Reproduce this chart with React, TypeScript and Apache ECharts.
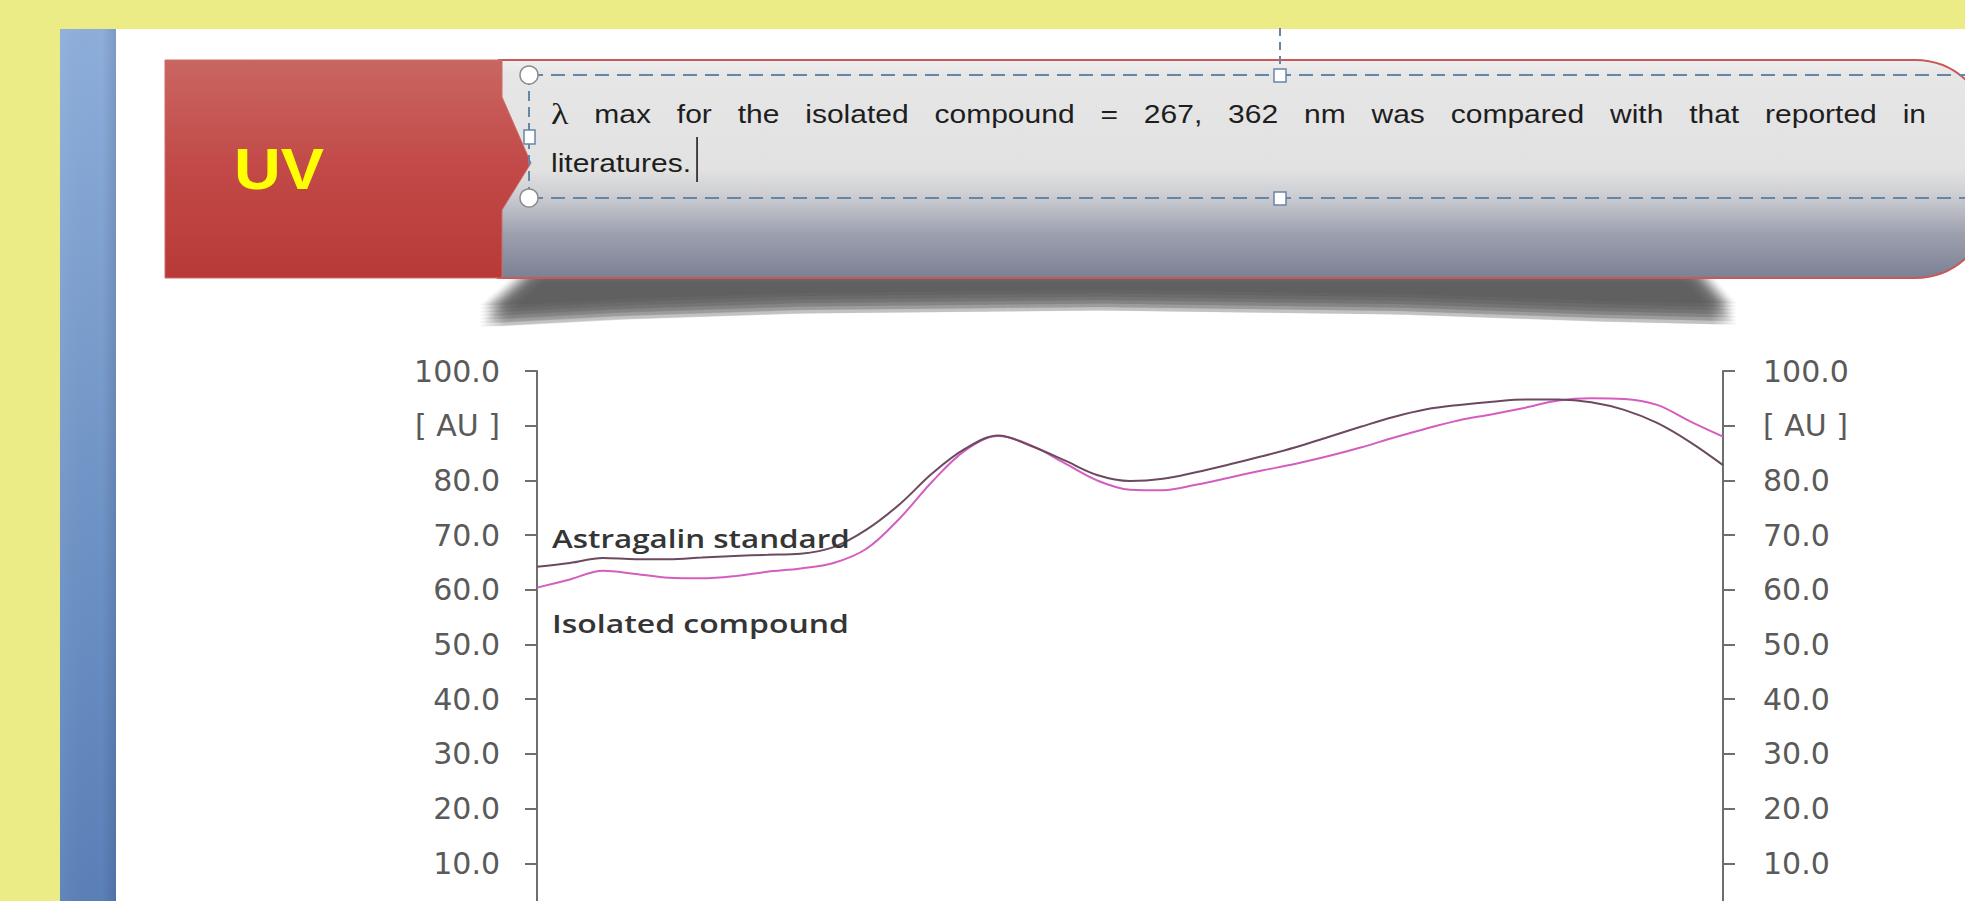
import React, { useEffect, useRef } from "react";
import * as echarts from "echarts";

// Wavelength grid (nm) and absorbance readings for both spectra
const wavelengths = [
  200, 205, 210, 215, 220, 225, 230, 235, 240, 245, 250, 255, 260, 265, 270, 275, 280, 285, 290,
  295, 300, 305, 310, 315, 320, 325, 330, 335, 340, 345, 350, 355, 360, 365, 370, 375, 380,
];
const astragalinStandard = [
  64.2, 64.9, 65.8, 65.6, 65.6, 65.9, 66.2, 66.4, 66.6, 67.8, 71.0, 75.6, 81.3, 85.8, 88.2, 86.3,
  83.7, 81.0, 79.9, 80.3, 81.5, 82.9, 84.4, 86.0, 87.9, 89.8, 91.6, 93.0, 93.8, 94.4, 94.8, 94.8,
  94.3, 92.9, 90.5, 87.0, 82.8,
];
const isolatedCompound = [
  60.4, 61.9, 63.5, 62.9, 62.2, 62.1, 62.5, 63.3, 63.9, 64.9, 67.5, 73.0, 79.8, 85.5, 88.1, 86.4,
  83.2, 80.0, 78.3, 78.2, 79.2, 80.5, 81.8, 83.0, 84.4, 86.0, 87.8, 89.5, 91.0, 92.1, 93.3, 94.6,
  95.0, 94.9, 93.8, 90.8, 88.0,
];

const xRange = [200, 380];
const xStep = 20;
const yRange = [0, 100];
const yStep = 10;
const unitTickValue = 90;
const unitLabel = "[ AU ]";

const seriesNames = ["Astragalin standard", "Isolated compound"];
const seriesColors = ["#6b4a60", "#d45ec0"];

const headerTitle = "UV";
const headerLine1 =
  "λ max for the isolated compound = 267, 362 nm was compared with that reported in";
const headerLine2 = "literatures.";

const W = 1965;
const H = 901;
const CHART_H = 960;

let measureCtx: CanvasRenderingContext2D | null = null;
function textWidth(text: string, font: string): number {
  if (!measureCtx) measureCtx = document.createElement("canvas").getContext("2d");
  if (!measureCtx) return text.length * 10;
  measureCtx.font = font;
  return measureCtx.measureText(text).width;
}

function yLabel(v: number): string {
  return v === unitTickValue ? unitLabel : v.toFixed(1);
}

function buildGraphics(): any[] {
  const g: any[] = [];
  // page backdrop
  g.push({ type: "rect", z: -10, shape: { x: 0, y: 0, width: W, height: H }, style: { fill: "#ecec86" } });
  g.push({
    type: "rect",
    z: -9,
    shape: { x: 60, y: 29, width: 56, height: H - 29 },
    style: {
      fill: new echarts.graphic.LinearGradient(0, 0, 0, 1, [
        { offset: 0, color: "#8eaedb" },
        { offset: 0.5, color: "#7196c8" },
        { offset: 1, color: "#5a80b8" },
      ]),
    },
  });
  g.push({
    type: "rect",
    z: -9,
    shape: { x: 60, y: 29, width: 56, height: H - 29 },
    style: {
      fill: new echarts.graphic.LinearGradient(0, 0, 1, 0, [
        { offset: 0, color: "rgba(255,255,255,0.05)" },
        { offset: 0.75, color: "rgba(0,0,0,0)" },
        { offset: 1, color: "rgba(0,0,40,0.12)" },
      ]),
    },
  });
  g.push({ type: "rect", z: -9, shape: { x: 116, y: 29, width: W - 116, height: H - 29 }, style: { fill: "#ffffff" } });

  // soft curved drop shadow under the banner, built from stacked translucent copies
  const shadowPts = [
    [540, 272], [1690, 272], [1726, 314], [1600, 311], [1400, 304], [1100, 300],
    [800, 303], [620, 309], [490, 316],
  ];
  const steps = [-10.5, -7, -3.5, 0, 3.5, 7, 10.5];
  steps.forEach((dx) =>
    steps.forEach((dy) => {
      g.push({
        type: "polygon",
        z: -8,
        shape: { points: shadowPts.map(([px, py]) => [px + dx, py + dy]) },
        style: { fill: "#585858", opacity: 0.062 },
      });
    })
  );

  // grey banner with rounded right end
  g.push({
    type: "rect",
    z: -7,
    shape: { x: 498, y: 60, width: 1492, height: 218, r: [0, 75, 75, 0] },
    style: {
      fill: new echarts.graphic.LinearGradient(0, 0, 0, 1, [
        { offset: 0, color: "#f0f0f0" },
        { offset: 0.06, color: "#e6e6e6" },
        { offset: 0.5, color: "#e2e2e2" },
        { offset: 0.62, color: "#cdced3" },
        { offset: 0.8, color: "#9ca0ae" },
        { offset: 1, color: "#7b8094" },
      ]),
      stroke: "#c95856",
      lineWidth: 2,
    },
  });
  // red title block with chevron
  g.push({
    type: "polygon",
    z: -6,
    shape: {
      points: [[165, 60], [502, 60], [502, 97], [531, 163], [502, 210], [502, 278], [165, 278]],
    },
    style: {
      fill: new echarts.graphic.LinearGradient(0, 0, 0, 1, [
        { offset: 0, color: "#c96661" },
        { offset: 0.5, color: "#c24947" },
        { offset: 1, color: "#b73a38" },
      ]),
      stroke: "#d06a68",
      lineWidth: 1,
    },
  });
  const uvFont = 'bold 58px "Liberation Sans"';
  const uvW = textWidth(headerTitle, uvFont);
  g.push({
    type: "text",
    z: -5,
    x: 234,
    y: 169,
    scaleX: 90 / uvW,
    style: {
      text: headerTitle,
      fontFamily: "Liberation Sans",
      fontWeight: "bold",
      fontSize: 58,
      fill: "#ffff00",
      align: "left",
      verticalAlign: "middle",
    },
  });

  // selected text box frame
  const dash = { stroke: "#6785a5", lineWidth: 2, lineDash: [14, 8] };
  g.push({ type: "line", z: -4, shape: { x1: 529, y1: 75, x2: W, y2: 75 }, style: dash });
  g.push({ type: "line", z: -4, shape: { x1: 529, y1: 198, x2: W, y2: 198 }, style: dash });
  g.push({ type: "line", z: -4, shape: { x1: 529, y1: 75, x2: 529, y2: 198 }, style: { ...dash, lineDash: [10, 6] } });
  g.push({ type: "line", z: -4, shape: { x1: 1280, y1: 28, x2: 1280, y2: 68 }, style: { ...dash, lineDash: [8, 6] } });
  const handleCircle = { fill: "#ffffff", stroke: "#8a8a8a", lineWidth: 1.5 };
  g.push({ type: "circle", z: -3, shape: { cx: 529, cy: 75, r: 9 }, style: handleCircle });
  g.push({ type: "circle", z: -3, shape: { cx: 529, cy: 198, r: 9 }, style: handleCircle });
  const handleSquare = { fill: "#ffffff", stroke: "#6785a5", lineWidth: 1.5 };
  g.push({ type: "rect", z: -3, shape: { x: 1274, y: 69, width: 12, height: 13 }, style: handleSquare });
  g.push({ type: "rect", z: -3, shape: { x: 1274, y: 192, width: 12, height: 13 }, style: handleSquare });
  g.push({ type: "rect", z: -3, shape: { x: 524, y: 130, width: 11, height: 14 }, style: handleSquare });

  // justified first line of the note
  const sx = 1.2;
  const words = headerLine1.split(" ");
  const styled = words.map((w) => {
    const serif = w === "λ";
    const family = serif ? "Liberation Serif" : "Liberation Sans";
    const size = serif ? 30 : 25;
    const width = textWidth(w, `${size}px "${family}"`) * sx;
    return { w, family, size, width };
  });
  const left = 551;
  const right = 1926;
  const total = styled.reduce((s, o) => s + o.width, 0);
  const gap = (right - left - total) / (styled.length - 1);
  let cx = left;
  styled.forEach((o) => {
    g.push({
      type: "text",
      z: -2,
      x: cx,
      y: 114,
      scaleX: sx,
      style: {
        text: o.w,
        fontFamily: o.family,
        fontSize: o.size,
        fill: "#1e1e1e",
        align: "left",
        verticalAlign: "middle",
      },
    });
    cx += o.width + gap;
  });
  const l2w = textWidth(headerLine2, '25px "Liberation Sans"') * sx;
  g.push({
    type: "text",
    z: -2,
    x: left,
    y: 163,
    scaleX: sx,
    style: {
      text: headerLine2,
      fontFamily: "Liberation Sans",
      fontSize: 25,
      fill: "#1e1e1e",
      align: "left",
      verticalAlign: "middle",
    },
  });
  g.push({
    type: "line",
    z: -2,
    shape: { x1: left + l2w + 6, y1: 137, x2: left + l2w + 6, y2: 182 },
    style: { stroke: "#111", lineWidth: 1.5 },
  });

  // curve captions inside the plot
  const capFont = '600 25px "Open Sans"';
  const captionPos = [
    { y: 538, width: 298 },
    { y: 623, width: 297 },
  ];
  seriesNames.forEach((name, i) => {
    const mw = textWidth(name, capFont);
    g.push({
      type: "text",
      z: 10,
      x: 552,
      y: captionPos[i].y,
      scaleX: captionPos[i].width / mw,
      style: {
        text: name,
        fontFamily: "Open Sans",
        fontWeight: 600,
        fontSize: 25,
        fill: "#353535",
        align: "left",
        verticalAlign: "middle",
      },
    });
  });
  return g;
}

export default function App() {
  const ref = useRef<HTMLDivElement>(null);

  useEffect(() => {
    document.body.style.margin = "0";
    if (!ref.current) return;
    const chart = echarts.init(ref.current, undefined, { renderer: "svg" });

    const axisColor = "#6e6e6e";
    const yAxisBase = {
      type: "value",
      min: yRange[0],
      max: yRange[1],
      interval: yStep,
      splitLine: { show: false },
      axisLine: { show: true, lineStyle: { color: axisColor, width: 2 } },
      axisTick: { show: true, length: 12, lineStyle: { color: axisColor, width: 2 } },
    };
    const labelStyle = {
      color: "#5a5a5a",
      fontFamily: "DejaVu Sans",
      fontSize: 30,
      showMinLabel: false,
      formatter: (v: number) => yLabel(v),
    };

    chart.setOption({
      animation: false,
      graphic: buildGraphics(),
      grid: { left: 537, right: W - 1723, top: 371, bottom: CHART_H - 918, containLabel: false },
      xAxis: {
        type: "value",
        position: "top",
        min: xRange[0],
        max: xRange[1],
        interval: xStep,
        axisLine: { show: true, lineStyle: { color: axisColor, width: 2 } },
        axisTick: { show: true, length: 6, lineStyle: { color: axisColor, width: 2 } },
        axisLabel: { show: false },
        splitLine: { show: false },
      },
      yAxis: [
        { ...yAxisBase, position: "left", axisLabel: { ...labelStyle, margin: 37, align: "right" } },
        { ...yAxisBase, position: "right", axisLabel: { ...labelStyle, margin: 40, align: "left" } },
      ],
      series: [astragalinStandard, isolatedCompound].map((vals, i) => ({
        name: seriesNames[i],
        type: "line",
        yAxisIndex: 0,
        showSymbol: false,
        smooth: 0.35,
        data: wavelengths.map((w, j) => [w, vals[j]]),
        lineStyle: { color: seriesColors[i], width: 2 },
        z: i === 0 ? 3 : 2,
      })),
    });

    return () => chart.dispose();
  }, []);

  return (
    <div style={{ position: "absolute", left: 0, top: 0, width: W, height: H, overflow: "hidden" }}>
      <div ref={ref} style={{ width: W, height: CHART_H }} />
    </div>
  );
}
